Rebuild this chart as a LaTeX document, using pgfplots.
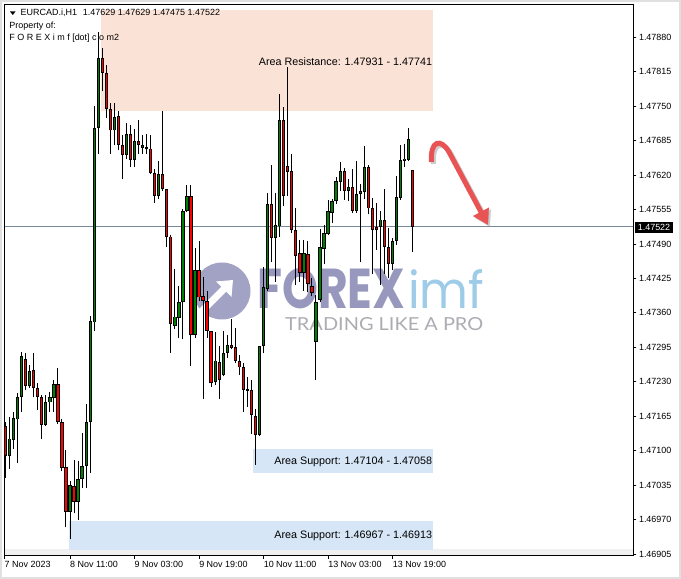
\documentclass[border=0pt]{standalone}
\usepackage{pgfplots}
\pgfplotsset{compat=1.18}
\usepackage{pgfplotstable}
\usepackage{fontspec}
\setmainfont{Liberation Sans}
\newfontfamily\logofont{Poppins}
\newfontfamily\tagfont{Lato}
\usetikzlibrary{arrows.meta}

\definecolor{bullc}{RGB}{0,128,0}
\definecolor{bearc}{RGB}{255,0,0}
\definecolor{resist}{RGB}{251,226,214}
\definecolor{support}{RGB}{214,230,246}
\definecolor{bidline}{RGB}{119,136,153}
\definecolor{logoc}{RGB}{152,152,190}
\definecolor{imfc}{RGB}{158,204,232}
\definecolor{tagc}{RGB}{172,172,178}
\definecolor{arrowc}{RGB}{232,84,84}

% EURCAD.i H1, x = bar number counted from 7 Nov 19:00
\pgfplotstableread{
x o h l c
1 1.47090 1.47163 1.47065 1.47123
2 1.47120 1.47173 1.47103 1.47161
3 1.47159 1.47208 1.47077 1.47202
4 1.47202 1.47286 1.47173 1.47278
6 1.47222 1.47262 1.47218 1.47251
10 1.47149 1.47205 1.47147 1.47192
11 1.47191 1.47211 1.47173 1.47202
12 1.47200 1.47233 1.47173 1.47225
16 1.46985 1.47042 1.46933 1.47036
18 1.47004 1.47081 1.46969 1.47047
19 1.47046 1.47133 1.47030 1.47071
20 1.47071 1.47189 1.47030 1.47154
21 1.47154 1.47354 1.47058 1.47345
22 1.47342 1.47751 1.47326 1.47709
23 1.47709 1.47890 1.47660 1.47841
27 1.47704 1.47756 1.47676 1.47730
30 1.47658 1.47718 1.47651 1.47697
32 1.47649 1.47707 1.47635 1.47684
34 1.47671 1.47695 1.47660 1.47676
38 1.47581 1.47647 1.47574 1.47621
42 1.47335 1.47442 1.47329 1.47353
43 1.47351 1.47410 1.47313 1.47380
44 1.47380 1.47555 1.47310 1.47552
45 1.47552 1.47601 1.47550 1.47581
47 1.47318 1.47482 1.47313 1.47440
52 1.47230 1.47323 1.47224 1.47270
54 1.47243 1.47326 1.47240 1.47284
55 1.47284 1.47319 1.47275 1.47299
63 1.47130 1.47297 1.47128 1.47297
64 1.47297 1.47447 1.47284 1.47409
65 1.47405 1.47587 1.47402 1.47565
67 1.47501 1.47587 1.47418 1.47525
68 1.47523 1.47772 1.47504 1.47724
74 1.47435 1.47498 1.47402 1.47472
77 1.47305 1.47393 1.47233 1.47380
78 1.47384 1.47518 1.47380 1.47484
79 1.47481 1.47526 1.47453 1.47511
80 1.47509 1.47573 1.47507 1.47552
81 1.47549 1.47574 1.47530 1.47571
82 1.47571 1.47616 1.47565 1.47608
83 1.47607 1.47644 1.47590 1.47627
85 1.47590 1.47612 1.47571 1.47598
87 1.47552 1.47647 1.47549 1.47584
88 1.47584 1.47603 1.47456 1.47589
89 1.47588 1.47675 1.47574 1.47635
93 1.47522 1.47552 1.47412 1.47536
96 1.47452 1.47501 1.47440 1.47495
97 1.47495 1.47618 1.47488 1.47579
98 1.47577 1.47676 1.47573 1.47649
99 1.47647 1.47679 1.47635 1.47651
100 1.47649 1.47709 1.47647 1.47688
}\bulls

\pgfplotstableread{
x o h l c
0 1.47147 1.47154 1.47049 1.47090
5 1.47273 1.47284 1.47214 1.47222
7 1.47253 1.47284 1.47202 1.47218
8 1.47219 1.47227 1.47176 1.47202
9 1.47202 1.47205 1.47122 1.47149
13 1.47225 1.47256 1.47151 1.47154
14 1.47154 1.47160 1.47061 1.47068
15 1.47069 1.47101 1.46956 1.46985
17 1.47034 1.47082 1.46982 1.47004
24 1.47841 1.47860 1.47778 1.47813
25 1.47813 1.47827 1.47727 1.47745
26 1.47745 1.47756 1.47660 1.47704
28 1.47732 1.47741 1.47667 1.47677
29 1.47677 1.47695 1.47612 1.47658
31 1.47697 1.47714 1.47635 1.47649
33 1.47684 1.47724 1.47660 1.47676
35 1.47672 1.47698 1.47660 1.47669
36 1.47670 1.47695 1.47622 1.47624
37 1.47624 1.47632 1.47568 1.47581
39 1.47621 1.47740 1.47590 1.47593
40 1.47593 1.47594 1.47485 1.47504
41 1.47504 1.47507 1.47284 1.47339
46 1.47581 1.47601 1.47259 1.47319
48 1.47440 1.47495 1.47383 1.47389
49 1.47391 1.47428 1.47198 1.47382
50 1.47382 1.47402 1.47313 1.47326
51 1.47325 1.47326 1.47221 1.47227
53 1.47267 1.47297 1.47198 1.47233
56 1.47300 1.47348 1.47291 1.47294
57 1.47295 1.47331 1.47265 1.47269
58 1.47269 1.47281 1.47243 1.47257
59 1.47258 1.47265 1.47173 1.47214
60 1.47216 1.47240 1.47183 1.47213
61 1.47214 1.47233 1.47132 1.47167
62 1.47165 1.47179 1.47074 1.47130
66 1.47565 1.47638 1.47456 1.47501
69 1.47724 1.47749 1.47562 1.47581
70 1.47637 1.47823 1.47581 1.47626
71 1.47628 1.47660 1.47511 1.47516
72 1.47517 1.47558 1.47412 1.47468
73 1.47472 1.47498 1.47418 1.47435
75 1.47471 1.47495 1.47399 1.47414
76 1.47410 1.47425 1.47391 1.47397
84 1.47627 1.47633 1.47573 1.47590
86 1.47598 1.47632 1.47549 1.47552
90 1.47635 1.47638 1.47546 1.47557
91 1.47558 1.47577 1.47433 1.47517
92 1.47522 1.47568 1.47479 1.47517
94 1.47535 1.47593 1.47434 1.47485
95 1.47484 1.47520 1.47425 1.47452
101 1.47629 1.47629 1.47475 1.47522
}\bears

% screen pixels of the reference, origin at its top left corner
\tikzset{px/.style={x=1bp,y=-1bp,shift={(-4.5bp,555.7bp)}}}
\newcommand\mtfont{\fontsize{9}{10}\selectfont}

\begin{document}
\begin{tikzpicture}
\begin{scope}[px]
  \useasboundingbox (0,0) rectangle (681,579);
  \fill[white] (0,0) rectangle (681,579);
  \draw[black!12, line width=2bp] (1,1) rectangle (680,578);
  \fill[black!6] (4.5,549.5) rectangle (633.3,555.7);
  % watermark
  \fill[logoc, opacity=0.9] (222,291) circle (28.5);
  \draw[white, line width=7bp, -{Triangle[length=13bp,width=21bp]}] (201,312) -- (233,280);
  \node[anchor=south west, inner sep=0, text=logoc] at (257,309)
    {\resizebox{148bp}{40bp}{\logofont\bfseries FOREX}};
  \node[anchor=south west, inner sep=0, text=imfc] at (408,309)
    {\resizebox{76bp}{39bp}{\logofont imf}};
  \node[anchor=south west, inner sep=0, text=tagc] at (285,331)
    {\resizebox{198bp}{13bp}{\tagfont TRADING LIKE A PRO}};
\end{scope}

\begin{axis}[
  at={(0,0)}, anchor=south west,
  scale only axis, width=628.8bp, height=551.4bp,
  xmin=-0.25, xmax=155.7,
  ymin=1.46902, ymax=1.47942,
  axis line style={black, line width=1bp},
  tick align=outside, major tick length=3bp,
  tick style={black, line width=0.8bp},
  ytick pos=right, xtick pos=bottom,
  yticklabel pos=right,
  scaled y ticks=false,
  ytick={1.46905,1.46970,1.47035,1.47100,1.47165,1.47230,1.47295,1.47360,
         1.47425,1.47490,1.47555,1.47620,1.47685,1.47750,1.47815,1.47880},
  yticklabels={1.46905,1.46970,1.47035,1.47100,1.47165,1.47230,1.47295,1.47360,
         1.47425,1.47490,1.47555,1.47620,1.47685,1.47750,1.47815,1.47880},
  xtick={-0.25,16,32,48,64,80,96},
  xticklabels={7 Nov 2023,8 Nov 11:00,9 Nov 03:00,9 Nov 19:00,10 Nov 11:00,
               13 Nov 03:00,13 Nov 19:00},
  ticklabel style={font=\mtfont, inner sep=0pt},
  yticklabel style={anchor=west, xshift=2.5bp},
  xticklabel style={anchor=north west, yshift=-2bp},
  candle/.style={draw=none, mark=none, error bars/.cd, y dir=plus, y explicit,
    error mark=none},
]
  \fill[resist] (axis cs:23.8,1.47741) rectangle (axis cs:106,1.47931);
  \fill[support] (axis cs:61.35,1.47058) rectangle (axis cs:106,1.47104);
  \fill[support] (axis cs:15.75,1.46913) rectangle (axis cs:106,1.46967);
  \addplot[bidline, line width=1bp] coordinates {(-0.25,1.47522) (155.7,1.47522)};

  % wicks
  \addplot[candle, error bar style={draw=black, solid, line width=1bp}]
    table[x=x, y=l, y error expr=\thisrow{h}-\thisrow{l}] {\bulls};
  \addplot[candle, error bar style={draw=black, solid, line width=1bp}]
    table[x=x, y=l, y error expr=\thisrow{h}-\thisrow{l}] {\bears};

  % bodies: black frame, coloured core
  \addplot[candle, error bar style={draw=black, solid, line width=3.3bp, line cap=butt}]
    table[x=x, y=o, y error expr=\thisrow{c}-\thisrow{o}] {\bulls};
  \addplot[candle, error bar style={draw=bullc, solid, line width=1.3bp, line cap=butt}]
    table[x=x, y expr=\thisrow{o}+0.000017, y error expr={max(0,\thisrow{c}-\thisrow{o}-0.000034)}] {\bulls};
  \addplot[candle, error bar style={draw=black, solid, line width=3.3bp, line cap=butt}]
    table[x=x, y=c, y error expr=\thisrow{o}-\thisrow{c}] {\bears};
  \addplot[candle, error bar style={draw=bearc, solid, line width=1.3bp, line cap=butt}]
    table[x=x, y expr=\thisrow{c}+0.000017, y error expr={max(0,\thisrow{o}-\thisrow{c}-0.000034)}] {\bears};
\end{axis}

\begin{scope}[px]
  % header
  \fill[black] (10,11.5) -- (15.5,11.5) -- (12.75,15) -- cycle;
  \node[anchor=base west, inner sep=0, font=\mtfont] at (20.5,16)
    {EURCAD.i,H1\hspace{6bp}1.47629 1.47629 1.47475 1.47522};
  \node[anchor=base west, inner sep=0, font=\mtfont] at (9.3,29) {Property of:};
  \node[anchor=base west, inner sep=0, font=\mtfont] at (9.3,41)
    {F O R E X i m f [dot] c o m2};
  % zone labels
  \node[anchor=base east, inner sep=0, font=\fontsize{10.8}{12}\selectfont] at (432.3,65.3)
    {Area Resistance: 1.47931 - 1.47741};
  \node[anchor=base east, inner sep=0, font=\fontsize{10.8}{12}\selectfont] at (432.3,464.3)
    {Area Support: 1.47104 - 1.47058};
  \node[anchor=base east, inner sep=0, font=\fontsize{10.8}{12}\selectfont] at (432.3,539)
    {Area Support: 1.46967 - 1.46913};
  % current bid
  \node[fill=black, text=white, inner sep=0, minimum width=38bp, minimum height=11bp,
    font=\mtfont] at (654,227.5) {1.47522};
  % red arrow with shadow
  \draw[black!40, opacity=0.5, line width=5bp, -{Triangle[length=15bp,width=17bp]}]
    (433.5,164) .. controls (432,142) and (443,140) .. (451,154) -- (490,227);
  \draw[arrowc, line width=5bp, -{Triangle[length=15bp,width=17bp]}]
    (431.5,162) .. controls (430,140) and (441,138) .. (449,152) -- (488,225);
\end{scope}
\end{tikzpicture}
\end{document}
